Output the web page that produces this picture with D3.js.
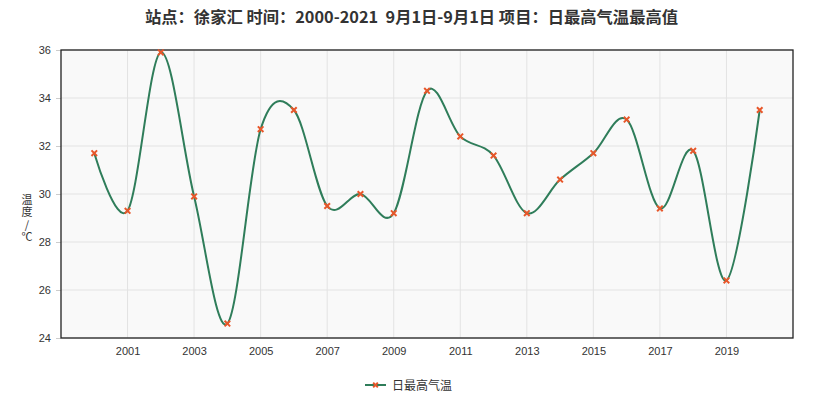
<!DOCTYPE html>
<html><head><meta charset="utf-8">
<script src="https://cdn.jsdelivr.net/npm/d3@7"></script>
<style>
html,body{margin:0;padding:0;background:#fff;}
svg{display:block;font-family:Arial,"Liberation Sans","Noto Sans CJK SC",sans-serif;}
</style></head>
<body>
<svg id="chart" width="816" height="402"></svg>
<script>
const years = [2000,2001,2002,2003,2004,2005,2006,2007,2008,2009,2010,2011,2012,2013,2014,2015,2016,2017,2018,2019,2020];
const tmax = [31.7,29.3,35.9,29.9,24.6,32.7,33.5,29.5,30.0,29.2,34.3,32.4,31.6,29.2,30.6,31.7,33.1,29.4,31.8,26.4,33.5];
const xTicks = [2001,2003,2005,2007,2009,2011,2013,2015,2017,2019];
const yTicks = [24,26,28,30,32,34,36];
const titleText = "站点：徐家汇 时间：2000-2021  9月1日-9月1日 项目：日最高气温最高值";
const seriesName = "日最高气温";
const yLabelText = "温度/℃";

const svg = d3.select("#chart");
const L = 61, R = 793, T = 50, B = 338;
const x = d3.scaleLinear().domain([1999, 2021]).range([L, R]);
const y = d3.scaleLinear().domain([24, 36]).range([B, T]);

svg.append("text").attr("x", 411.5).attr("y", 23).attr("text-anchor", "middle")
  .style("white-space", "pre")
  .attr("textLength", 533).attr("lengthAdjust", "spacingAndGlyphs")
  .attr("font-family", "'Noto Sans CJK SC',sans-serif").attr("font-weight", "bold")
  .attr("font-size", 16).attr("fill", "#333").text(titleText);

svg.append("rect").attr("x", L).attr("y", T).attr("width", R - L).attr("height", B - T).attr("fill", "#f9f9f9");

const g = svg.append("g");
g.selectAll("line.gy").data(yTicks).join("line").attr("class", "gy")
  .attr("x1", L).attr("x2", R).attr("y1", d => y(d)).attr("y2", d => y(d))
  .attr("stroke", "#e3e3e3").attr("stroke-width", 1);
g.selectAll("line.gx").data(xTicks).join("line").attr("class", "gx")
  .attr("y1", T).attr("y2", B).attr("x1", d => x(d)).attr("x2", d => x(d))
  .attr("stroke", "#e3e3e3").attr("stroke-width", 1);

const yAxis = svg.append("g").attr("transform", `translate(${L},0)`)
  .call(d3.axisLeft(y).tickValues(yTicks).tickSize(5).tickPadding(5).tickFormat(d3.format("d")));
yAxis.select(".domain").remove();
yAxis.selectAll("line").attr("stroke", "#ccc");
yAxis.selectAll("text").attr("font-size", 11).attr("fill", "#333");

const xAxis = svg.append("g").attr("transform", `translate(0,${B})`)
  .call(d3.axisBottom(x).tickValues(xTicks).tickSize(0).tickPadding(9).tickFormat(d3.format("d")));
xAxis.select(".domain").remove();
xAxis.selectAll("text").attr("font-size", 11).attr("fill", "#333");

svg.append("rect").attr("x", L).attr("y", T).attr("width", R - L).attr("height", B - T)
  .attr("fill", "none").attr("stroke", "#222").attr("stroke-width", 1.3);

const data = years.map((yr, i) => ({yr, v: tmax[i]}));
const line = d3.line().x(d => x(d.yr)).y(d => y(d.v)).curve(d3.curveCardinal.tension(0));
svg.append("path").datum(data).attr("d", line).attr("fill", "none")
  .attr("stroke", "#2f7d5a").attr("stroke-width", 2);

const cross = d3.symbol().type(d3.symbolX).size(22);
svg.selectAll("path.mk").data(data).join("path").attr("class", "mk")
  .attr("transform", d => `translate(${x(d.yr)},${y(d.v)})`)
  .attr("d", cross).attr("stroke", "#e8572a").attr("stroke-width", 2).attr("fill", "none");

svg.append("text").attr("x", 27).attr("y", 194)
  .style("writing-mode", "vertical-rl").style("text-orientation", "upright")
  .attr("letter-spacing", 1.5)
  .attr("font-family", "'Noto Sans CJK SC',serif").attr("font-size", 11)
  .attr("fill", "#333").text(yLabelText);

const lg = svg.append("g");
lg.append("line").attr("x1", 365).attr("x2", 386).attr("y1", 385).attr("y2", 385)
  .attr("stroke", "#2f7d5a").attr("stroke-width", 2);
lg.append("path").attr("transform", "translate(375.5,385)").attr("d", d3.symbol().type(d3.symbolX).size(16)())
  .attr("stroke", "#e8572a").attr("stroke-width", 2);
lg.append("text").attr("x", 392).attr("y", 389.5).attr("font-family", "'Noto Sans CJK SC',sans-serif")
  .attr("font-size", 12).attr("fill", "#333").text(seriesName);
</script>
</body></html>
